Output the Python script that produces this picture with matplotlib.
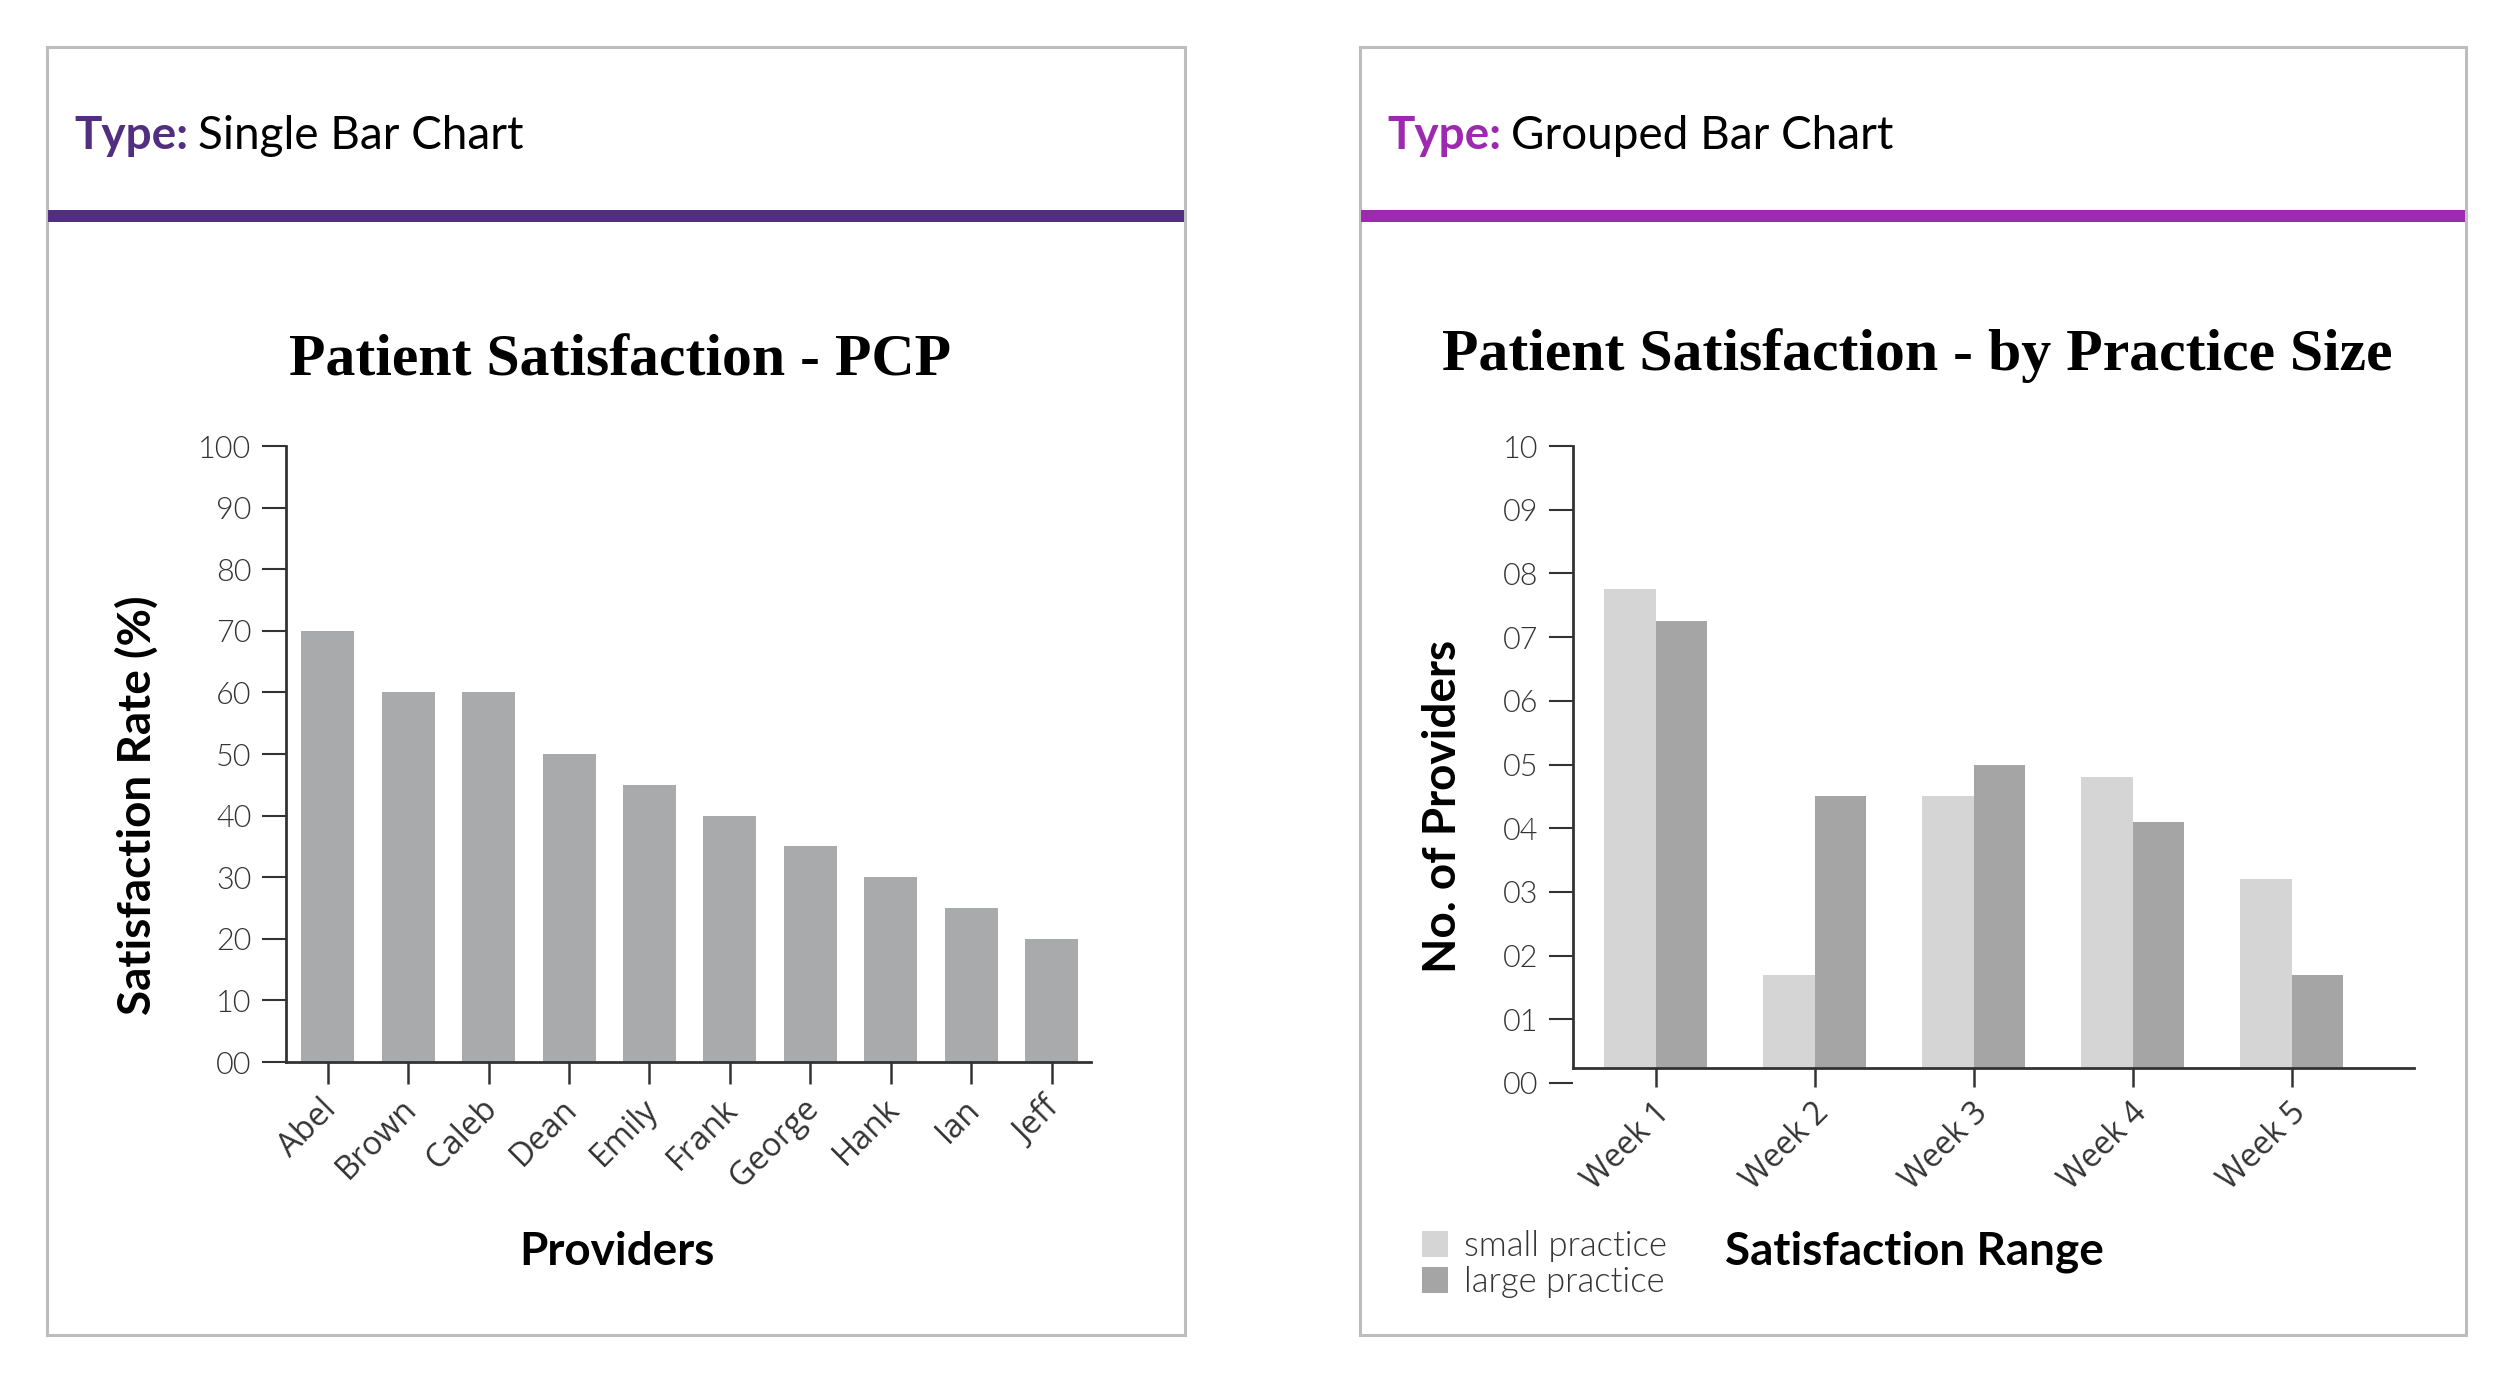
import matplotlib
matplotlib.use('Agg')
import matplotlib.pyplot as plt
import matplotlib.transforms as mtransforms
from matplotlib.patches import Rectangle
import numpy as np

# ---------------- data ----------------
providers = ['Abel', 'Brown', 'Caleb', 'Dean', 'Emily', 'Frank', 'George', 'Hank', 'Ian', 'Jeff']
satisfaction = [70, 60, 60, 50, 45, 40, 35, 30, 25, 20]
left_yticks = [0, 10, 20, 30, 40, 50, 60, 70, 80, 90, 100]

weeks = ['Week 1', 'Week 2', 'Week 3', 'Week 4', 'Week 5']
small_practice = [7.75, 1.7, 4.5, 4.8, 3.2]
large_practice = [7.25, 4.5, 5.0, 4.1, 1.7]
right_yticks = [0, 1, 2, 3, 4, 5, 6, 7, 8, 9, 10]
series_names = ['small practice', 'large practice']

# ---------------- style ----------------
SANS = ['Lato', 'DejaVu Sans']
XSANS = ['Open Sans', 'DejaVu Sans']
SERIF = ['Liberation Serif', 'DejaVu Serif']
AX_COLOR = '#333333'
BORDER = '#BDBDBD'
LEFT_ACCENT = '#512E80'
RIGHT_ACCENT = '#9D29B0'
BAR_GREY = '#A9AAAC'
SMALL_COL = '#D5D5D5'
LARGE_COL = '#A5A5A5'
TICK_W = 300

W, H = 2499, 1377
fig = plt.figure(figsize=(W / 100, H / 100), dpi=100)
fig.patch.set_facecolor('white')


def fx(px):
    return px / W


def fy(py):
    return 1 - py / H


def add_ax(x0, x1, ytop, ybot):
    return fig.add_axes([fx(x0), fy(ybot), fx(x1 - x0), (ybot - ytop) / H])


renderer = fig.canvas.get_renderer()


def panel(x0, x1, accent, kind, title, title_y):
    fig.add_artist(Rectangle((fx(x0), fy(1335)), fx(x1 - x0), (1335 - 47) / H,
                             transform=fig.transFigure, fill=False,
                             edgecolor=BORDER, lw=2.2, zorder=0))
    fig.add_artist(Rectangle((fx(x0 + 1), fy(222)), fx(x1 - x0 - 2), 12 / H,
                             transform=fig.transFigure, facecolor=accent,
                             edgecolor='none', zorder=1))
    t = fig.text(fx(x0 + 27), fy(149), 'Type:', color=accent, fontsize=33,
                 fontweight='bold', family=SANS, ha='left', va='baseline')
    bb = t.get_window_extent(renderer)
    fig.text(bb.x1 / W + fx(10), fy(149), kind, color='black', fontsize=33,
             family=SANS, ha='left', va='baseline')
    fig.text(fx((x0 + x1) / 2 + 4), fy(title_y), title, fontsize=43, fontweight='bold',
             family=SERIF, ha='center', va='baseline', color='black')


panel(47, 1185, LEFT_ACCENT, 'Single Bar Chart', 'Patient Satisfaction - PCP', 375)
panel(1360, 2466, RIGHT_ACCENT, 'Grouped Bar Chart', 'Patient Satisfaction - by Practice Size', 370)


def style_axes(ax, xlen, xsize):
    for s in ['top', 'right']:
        ax.spines[s].set_visible(False)
    for s in ['left', 'bottom']:
        ax.spines[s].set_color(AX_COLOR)
        ax.spines[s].set_linewidth(2.0)
    ax.tick_params(axis='y', colors=AX_COLOR, width=1.5, length=17, labelsize=22, pad=8)
    ax.tick_params(axis='x', colors=AX_COLOR, width=1.8, length=xlen, labelsize=xsize, pad=6)
    ax.set_facecolor('none')


def style_labels(ax, dx):
    for lab in ax.get_yticklabels():
        lab.set_family(SANS)
        lab.set_fontweight(TICK_W)
        lab.set_color(AX_COLOR)
    off = mtransforms.ScaledTranslation(dx / 100, 0, fig.dpi_scale_trans)
    for lab in ax.get_xticklabels():
        lab.set_family(XSANS)
        lab.set_color(AX_COLOR)
        lab.set_rotation(45)
        lab.set_ha('right')
        lab.set_rotation_mode('anchor')
        lab.set_transform(lab.get_transform() + off)


# ---------------- left chart ----------------
ax1 = add_ax(286, 1091, 446, 1062)
x1 = np.arange(len(providers))
ax1.bar(x1, satisfaction, width=0.66, color=BAR_GREY, edgecolor='none')
ax1.set_xlim(-0.52, 9.49)
ax1.set_ylim(0, 100)
style_axes(ax1, 16, 23.5)
ax1.set_yticks(left_yticks)
ax1.set_yticklabels([f'{v:02d}' for v in left_yticks])
ax1.set_xticks(x1)
ax1.set_xticklabels(providers)
style_labels(ax1, -8)
fig.text(fx(617), fy(1252), 'Providers', fontsize=33, fontweight='bold', family=SANS,
         ha='center', va='center', color='black')
fig.text(fx(137), fy(805), 'Satisfaction Rate (%)', fontsize=33, fontweight='bold',
         family=SANS, ha='center', va='center', rotation=90, color='black')

# ---------------- right chart ----------------
BASE = 0.23
ax2 = add_ax(1573, 2414, 446, 1083)
x2 = np.arange(len(weeks))
bw = 0.325
b1 = ax2.bar(x2 - bw / 2, np.array(small_practice) - BASE, bottom=BASE, width=bw,
             color=SMALL_COL, edgecolor='none')
b2 = ax2.bar(x2 + bw / 2, np.array(large_practice) - BASE, bottom=BASE, width=bw,
             color=LARGE_COL, edgecolor='none')
ax2.set_xlim(-0.52, 4.77)
ax2.set_ylim(0, 10)
ax2.spines['bottom'].set_position(('data', BASE))
ax2.spines['left'].set_bounds(BASE, 10)
ax2.set_yticks(right_yticks)
ax2.set_yticklabels([f'{v:02d}' for v in right_yticks])
ax2.set_xticks(x2)
ax2.set_xticklabels(weeks)
style_axes(ax2, 14, 23)
style_labels(ax2, -2)
fig.text(fx(1914), fy(1252), 'Satisfaction Range', fontsize=33, fontweight='bold',
         family=SANS, ha='center', va='center', color='black')
fig.text(fx(1443), fy(806), 'No. of Providers', fontsize=33, fontweight='bold',
         family=SANS, ha='center', va='center', rotation=90, color='black')

leg = fig.legend([b1, b2], series_names, loc='upper left',
                 bbox_to_anchor=(fx(1422), fy(1230)), frameon=False,
                 prop={'family': SANS, 'size': 25, 'weight': TICK_W},
                 handlelength=0.75, handleheight=0.75, handletextpad=0.45,
                 labelspacing=0.12, borderpad=0, borderaxespad=0)
for t in leg.get_texts():
    t.set_color(AX_COLOR)

fig.savefig('out.png', dpi=100, facecolor='white')
